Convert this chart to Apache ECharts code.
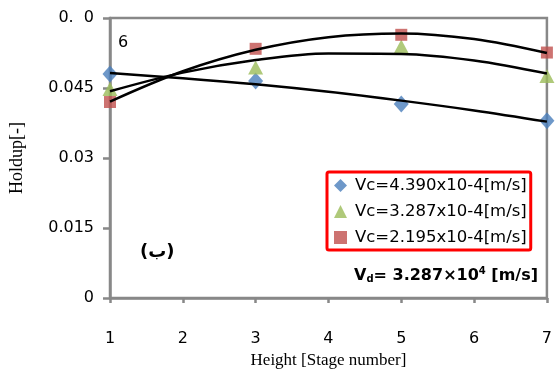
<!DOCTYPE html>
<html><head><meta charset="utf-8">
<script src="https://cdn.jsdelivr.net/npm/echarts@6/dist/echarts.min.js"></script>
<style>html,body{margin:0;padding:0;background:#fff}#c{width:555px;height:374px}</style>
</head><body><div id="c"></div>
<script>
// Stage numbers
var stages = [1, 3, 5, 7];
var trendStages = [1, 2, 3, 4, 5, 6, 7];
var yTicks = [0, 0.015, 0.03, 0.045, 0.06];
var yTickLabels = ['0', '0.015', '0.03', '0.045', '0.  0'];
var seriesNames = ['Vc=4.390x10-4[m/s]', 'Vc=3.287x10-4[m/s]', 'Vc=2.195x10-4[m/s]'];
// Holdup values
var holdupA = [0.0480, 0.0465, 0.0416, 0.0380];
var holdupB = [0.0448, 0.0494, 0.0539, 0.0476];
var holdupC = [0.0420, 0.0534, 0.0564, 0.0526];
// Trend lines
var trendA = [0.0482, 0.0471, 0.0458, 0.0442, 0.0423, 0.0402, 0.0378];
var trendB = [0.0443, 0.0483, 0.0510, 0.0524, 0.0523, 0.0509, 0.0481];
var trendC = [0.0421, 0.0486, 0.0532, 0.0559, 0.0567, 0.0555, 0.0525];

var colors = ['#4a7ebb', '#9bbb59', '#c0504d'];
var symbols = ['diamond', 'triangle', 'rect'];
var symSizes = [[15, 17], [15, 14], [12, 12]];
var holdups = [holdupA, holdupB, holdupC];
var trends = [trendA, trendB, trendC];

function pairs(xs, ys) { return xs.map(function (x, i) { return [x, ys[i]]; }); }

var series = [];
for (var i = 0; i < 3; i++) {
  series.push({
    name: seriesNames[i], type: 'scatter', data: pairs(stages, holdups[i]),
    symbol: symbols[i], symbolSize: symSizes[i],
    itemStyle: { color: colors[i] }, z: 2
  });
}
for (var j = 0; j < 3; j++) {
  series.push({
    name: 'trend' + j, type: 'line', data: pairs(trendStages, trends[j]),
    smooth: 0.35, showSymbol: false, symbol: 'none',
    lineStyle: { color: '#000', width: 2.5 }, z: 3, silent: true
  });
}

var chart = echarts.init(document.getElementById('c'), null, { renderer: 'canvas' });
var tickFont = 'DejaVu Sans';
chart.setOption({
  animation: false,
  backgroundColor: '#fff',
  grid: { left: 108, right: 6, top: 18, bottom: 72, show: true, borderColor: '#888', borderWidth: 2.5, backgroundColor: 'transparent' },
  xAxis: {
    type: 'value', min: 1, max: 7, interval: 1,
    name: 'Height [Stage number]', nameLocation: 'middle', nameGap: 52,
    nameTextStyle: { fontFamily: 'Liberation Serif', fontSize: 17, color: '#000' },
    axisLine: { lineStyle: { color: '#888', width: 2.5 } },
    axisTick: { show: true, inside: false, length: 5, lineStyle: { color: '#888', width: 2.5 } },
    axisLabel: { margin: 33, fontFamily: tickFont, fontSize: 16, color: '#000' },
    splitLine: { show: false }
  },
  yAxis: {
    type: 'value', min: 0, max: 0.06, interval: 0.015,
    name: 'Holdup[-]', nameLocation: 'middle', nameGap: 84, nameRotate: 90,
    nameTextStyle: { fontFamily: 'Liberation Serif', fontSize: 18, color: '#000' },
    axisLine: { show: true, lineStyle: { color: '#888', width: 2.5 } },
    axisTick: { show: true, inside: false, length: 7, lineStyle: { color: '#888', width: 2.5 } },
    axisLabel: {
      margin: 16, fontFamily: tickFont, fontSize: 16, color: '#000',
      formatter: function (v) {
        for (var k = 0; k < yTicks.length; k++) if (Math.abs(v - yTicks[k]) < 1e-9) return yTickLabels[k];
        return '';
      }
    },
    splitLine: { show: false }
  },
  legend: {
    data: seriesNames.map(function (n, i) { return { name: n, icon: symbols[i] }; }),
    orient: 'vertical', left: 327, top: 172,
    borderColor: '#ff0000', borderWidth: 3, borderRadius: 2,
    padding: [5, 4, 4, 7], itemGap: 9, itemWidth: 13, itemHeight: 13,
    textStyle: { fontFamily: tickFont, fontSize: 16.5, color: '#000', padding: [0, 0, 0, 3] }
  },
  graphic: [
    { type: 'text', left: 118, top: 35, style: { text: '6', fontFamily: tickFont, fontSize: 16, fill: '#000' } },
    { type: 'text', left: 140, top: 243, style: { text: '(ب)', fontFamily: 'DejaVu Sans', fontWeight: 'bold', fontSize: 18, fill: '#000' } },
    { type: 'text', left: 354, top: 266, style: {
        text: '{v|V}{s|d}{v|= 3.287×10}{p|4}{v| [m/s]}',
        rich: {
          v: { fontFamily: tickFont, fontWeight: 'bold', fontSize: 16, fill: '#000', verticalAlign: 'bottom' },
          s: { fontFamily: tickFont, fontWeight: 'bold', fontSize: 10, fill: '#000', padding: [6, 0, 0, 0], verticalAlign: 'bottom' },
          p: { fontFamily: tickFont, fontWeight: 'bold', fontSize: 10, fill: '#000', padding: [0, 0, 8, 0], verticalAlign: 'bottom' }
        }
      } }
  ],
  series: series
});
</script>
</body></html>
